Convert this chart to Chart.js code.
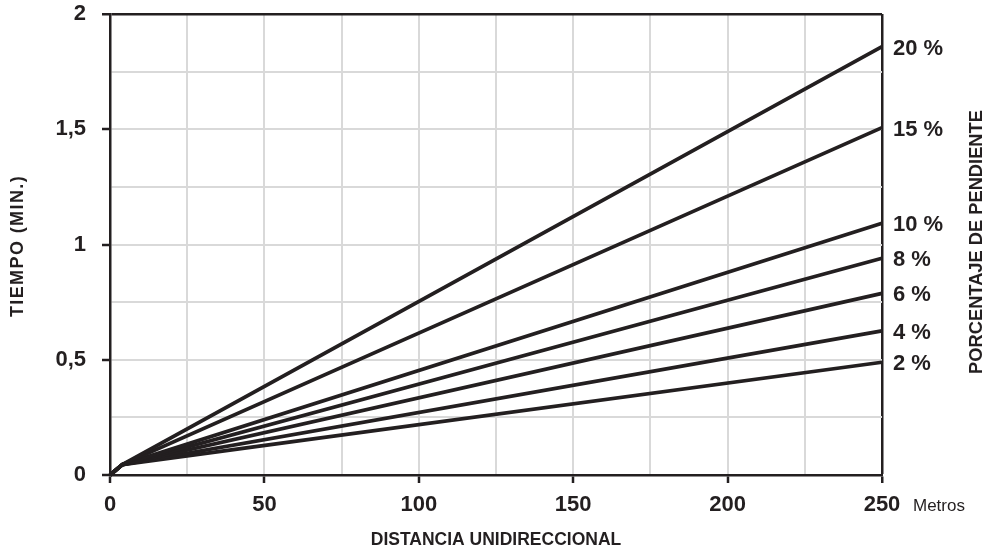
<!DOCTYPE html>
<html>
<head>
<meta charset="utf-8">
<script src="https://cdn.jsdelivr.net/npm/chart.js@4.4.1/dist/chart.umd.min.js"></script>
<style>
  html, body { margin: 0; padding: 0; background: #ffffff; }
  #wrap { width: 988px; height: 554px; position: relative; }
</style>
</head>
<body>
<div id="wrap"><canvas id="c" width="988" height="554"></canvas></div>
<script>
// ---- data ----
const distances = [0, 4, 250];              // metros
const slope2  = [0, 0.045, 0.489];
const slope4  = [0, 0.045, 0.625];
const slope6  = [0, 0.045, 0.788];
const slope8  = [0, 0.045, 0.940];
const slope10 = [0, 0.045, 1.092];
const slope15 = [0, 0.045, 1.507];
const slope20 = [0, 0.045, 1.858];
const seriesLabels = ['20 %', '15 %', '10 %', '8 %', '6 %', '4 %', '2 %'];
const seriesValues = [slope20, slope15, slope10, slope8, slope6, slope4, slope2];
const xTickLabels = [0, 50, 100, 150, 200, 250];
const yTickLabels = ['0', '0,5', '1', '1,5', '2'];
const xTitle = 'DISTANCIA UNIDIRECCIONAL';
const yTitle = 'TIEMPO (MIN.)';
const rightTitle = 'PORCENTAJE DE PENDIENTE';
const unitLabel = 'Metros';

const INK = '#231f20';
const GRID = '#d9d9d9';
const FONT = '"Liberation Sans", Arial, Helvetica, sans-serif';

const datasets = seriesValues.map((vals, i) => ({
  label: seriesLabels[i],
  data: distances.map((d, j) => ({ x: d, y: vals[j] })),
  borderColor: INK,
  borderWidth: 3.7,
  pointRadius: 0,
  tension: 0,
  fill: false,
  clip: false
}));

const textPlugin = {
  id: 'textPlugin',
  afterDraw(chart) {
    const ctx = chart.ctx;
    const area = chart.chartArea;
    ctx.save();
    ctx.fillStyle = INK;
    // series labels at line ends
    ctx.font = 'bold 22px ' + FONT;
    ctx.textAlign = 'left';
    ctx.textBaseline = 'middle';
    chart.data.datasets.forEach((ds, i) => {
      const meta = chart.getDatasetMeta(i);
      const last = meta.data[meta.data.length - 1];
      ctx.fillText(ds.label, area.right + 11, last.y + 2);
    });
    // unit label
    const xs = chart.scales.x;
    ctx.font = '17px ' + FONT;
    ctx.fillText(unitLabel, xs.getPixelForValue(250) + 31, 506);
    // axis titles
    ctx.font = 'bold 17.5px ' + FONT;
    ctx.textAlign = 'center';
    ctx.fillText(xTitle, (area.left + area.right) / 2, 540);
    ctx.save();
    ctx.font = 'bold 18px ' + FONT;
    if ('letterSpacing' in ctx) ctx.letterSpacing = '1.4px';
    ctx.translate(18, 246);
    ctx.rotate(-Math.PI / 2);
    ctx.fillText(yTitle, 0, 0);
    ctx.restore();
    ctx.save();
    ctx.font = 'bold 18.3px ' + FONT;
    ctx.translate(977, 242);
    ctx.rotate(-Math.PI / 2);
    ctx.fillText(rightTitle, 0, 0);
    ctx.restore();
    ctx.restore();
  }
};

new Chart(document.getElementById('c'), {
  type: 'line',
  data: { datasets },
  plugins: [textPlugin],
  options: {
    responsive: false,
    animation: false,
    events: [],
    layout: { padding: { left: 0, right: 106, top: 14, bottom: 0 } },
    plugins: { legend: { display: false }, tooltip: { enabled: false } },
    scales: {
      x: {
        type: 'linear',
        min: 0, max: 250,
        afterFit(s) { s.height = 79; s.paddingLeft = 0; s.paddingRight = 0; },
        ticks: {
          stepSize: 25,
          autoSkip: false,
          maxRotation: 0,
          padding: 9,
          color: INK,
          font: { family: FONT, size: 22, weight: 'bold' },
          callback: (v) => xTickLabels.includes(v) ? String(v) : ''
        },
        grid: {
          color: (c) => (c.tick && c.tick.value === 250) ? INK : GRID,
          lineWidth: (c) => (c.tick && c.tick.value === 250) ? 2.5 : 2,
          tickColor: (c) => (c.tick && xTickLabels.includes(c.tick.value)) ? INK : 'rgba(0,0,0,0)',
          tickLength: 8,
          tickWidth: 2.5
        },
        border: { color: INK, width: 2.5 }
      },
      y: {
        type: 'linear',
        min: 0, max: 2,
        afterFit(s) { s.width = 110; s.paddingTop = 0; s.paddingBottom = 0; },
        ticks: {
          stepSize: 0.25,
          autoSkip: false,
          padding: 16,
          color: INK,
          font: { family: FONT, size: 22, weight: 'bold' },
          callback: (v) => {
            const k = Math.round(v * 2);
            return Math.abs(v * 2 - k) < 1e-6 ? yTickLabels[k] : '';
          }
        },
        grid: {
          color: (c) => (c.tick && c.tick.value === 2) ? INK : GRID,
          lineWidth: (c) => (c.tick && c.tick.value === 2) ? 2.5 : 2,
          tickColor: (c) => (c.tick && Math.abs(c.tick.value * 2 - Math.round(c.tick.value * 2)) < 1e-6) ? INK : 'rgba(0,0,0,0)',
          tickLength: 8,
          tickWidth: 2.5
        },
        border: { color: INK, width: 2.5 }
      }
    }
  }
});
</script>
</body>
</html>
